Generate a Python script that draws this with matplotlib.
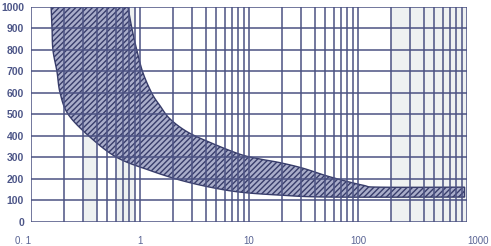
import numpy as np
import matplotlib
matplotlib.use('Agg')
import matplotlib.pyplot as plt

# band boundaries
lower_x = [0.153, 0.156, 0.159, 0.173, 0.185, 0.22, 0.348, 0.615, 1.23, 2.33, 4.39, 8.27, 19.2, 55, 950]
lower_y = [1000, 900, 800, 700, 600, 500, 395, 300, 240, 195, 162, 139, 125, 116, 116]
upper_x = [0.776, 0.845, 0.939, 1.065, 1.29, 1.53, 1.88, 2.70, 4.39, 8.27, 12.6, 19.2, 31.3, 55.3, 111, 159, 950]
upper_y = [1000, 898, 796, 694, 597, 540, 480, 420, 370, 315, 293, 276, 250, 210, 171, 162, 162]

x_ticks = [0.1, 1, 10, 100, 1000]
x_labels = ['0. 1', '1', '10', '100', '1000']
y_ticks = list(range(0, 1001, 100))
light_bands = [(0.3, 0.4), (0.6, 0.9), (200, 1000)]

grid_col = '#4c5283'
text_col = '#4d5688'
plt.rcParams['hatch.linewidth'] = 1.0
plt.rcParams['font.family'] = ['Liberation Sans', 'DejaVu Sans']


def smooth(xs, ys, n=20):
    # catmull-rom through the read points, in log-x space
    px = np.log10(xs) * 218.0
    py = np.asarray(ys, float) * 0.216
    P = np.c_[px, py]
    P = np.vstack([P[0], P, P[-1]])
    out = []
    for i in range(1, len(P) - 2):
        p0, p1, p2, p3 = P[i - 1], P[i], P[i + 1], P[i + 2]
        for t in np.linspace(0, 1, n, endpoint=False):
            t2, t3 = t * t, t * t * t
            out.append(0.5 * (2 * p1 + (-p0 + p2) * t + (2 * p0 - 5 * p1 + 4 * p2 - p3) * t2
                              + (-p0 + 3 * p1 - 3 * p2 + p3) * t3))
    out.append(P[-2])
    out = np.array(out)
    return 10 ** (out[:, 0] / 218.0), out[:, 1] / 0.216


fig = plt.figure(figsize=(4.91, 2.46), dpi=100)
ax = fig.add_axes([0.0631, 0.0976, 0.888, 0.874])
ax.set_xscale('log')
ax.set_xlim(0.1, 1000)
ax.set_ylim(0, 1000)

for a, b in light_bands:
    ax.axvspan(a, b, color='#eef1f1', lw=0, zorder=0)

lx, ly = smooth(lower_x, lower_y)
ux, uy = smooth(upper_x, upper_y)
ax.fill(np.r_[lx, ux[::-1]], np.r_[ly, uy[::-1]],
        facecolor='#a9adca', edgecolor='#383d6b', hatch='//////', lw=1.0, zorder=2)

# grid
for v in y_ticks:
    ax.axhline(v, color=grid_col, lw=1.1, zorder=3)
for d in [0.1, 1, 10, 100]:
    for m in range(1, 10):
        ax.axvline(d * m, color=grid_col, lw=1.1, zorder=3)
ax.axvline(1000, color=grid_col, lw=1.1, zorder=3)

for s in ax.spines.values():
    s.set_visible(False)
ax.tick_params(length=0, colors=text_col)
ax.minorticks_off()
ax.set_xticks(x_ticks)
ax.set_xticklabels(x_labels)
ax.set_yticks(y_ticks)
for t in ax.get_yticklabels():
    t.set_fontsize(7.5)
    t.set_fontweight('bold')
    t.set_color(text_col)
for t in ax.get_xticklabels():
    t.set_fontsize(7)
    t.set_color('#5a6494')
ax.tick_params(axis='x', pad=10)
ax.tick_params(axis='y', pad=5)
xl = ax.get_xticklabels()
xl[0].set_ha('right')
xl[-1].set_ha('left')

fig.savefig('out.png', dpi=100)
